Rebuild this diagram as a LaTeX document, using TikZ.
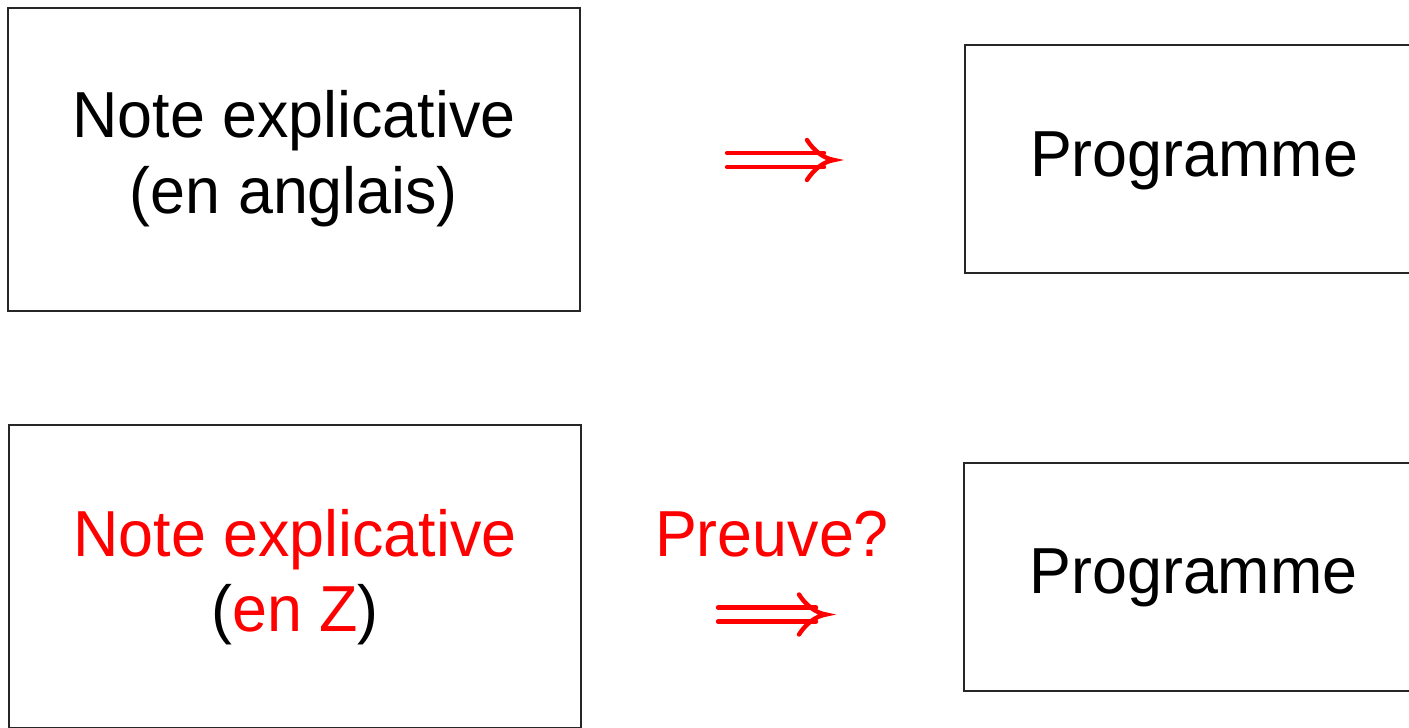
\documentclass[tikz,border=0pt]{standalone}
\usepackage{fontspec}
\setmainfont{Liberation Sans}[FakeStretch=0.965]
\begin{document}
\begin{tikzpicture}[x=0.01cm,y=-0.01cm,
  frame/.style={draw=black!85,line width=0.5pt,inner sep=0pt,outer sep=0pt},
  label/.style={anchor=base,inner sep=0pt,font=\fontsize{18.5}{21.3}\selectfont},
  implies/.style={draw=red,line width=1.25pt,line cap=round}]
  \path[use as bounding box,clip] (0,0) rectangle (1409,727);

  % boxes
  \node[frame,minimum width=5.72cm,minimum height=3.03cm] (spec) at (294,159.5) {};
  \node[frame,minimum width=4.58cm,minimum height=2.28cm] (prog) at (1194,159) {};
  \node[frame,minimum width=5.72cm,minimum height=3.03cm] (zspec) at (295,576.5) {};
  \node[frame,minimum width=4.59cm,minimum height=2.28cm] (zprog) at (1193.5,577) {};

  % box texts
  \node[label] (spec1) at (294,137) {Note explicative};
  \node[label] (spec2) at (294,213) {(en anglais)};
  \node[label] (prog1) at (1194,176) {Programme};
  \node[label,text=red] (zspec1) at (295,556) {Note explicative};
  \node[label] (zspec2) at (295,631) {(\textcolor{red}{en Z})};
  \node[label] (zprog1) at (1193.5,593) {Programme};
  \node[label,text=red] (proof) at (772,556) {Preuve?};

  % double implication arrows
  \coordinate (imp1s) at (727,160);
  \coordinate (imp1e) at (834,160);
  \coordinate (imp2s) at (718,614.5);
  \coordinate (imp2e) at (826,614.5);
  \foreach \s/\e in {imp1s/imp1e, imp2s/imp2e}{
    \draw[implies] ([yshift=0.07cm]\s) -- ([xshift=-0.1cm,yshift=0.07cm]\e);
    \draw[implies] ([yshift=-0.07cm]\s) -- ([xshift=-0.1cm,yshift=-0.07cm]\e);
    \draw[implies] ([xshift=-0.27cm,yshift=0.2cm]\e)
      .. controls ([xshift=-0.2cm,yshift=0.09cm]\e) and ([xshift=-0.1cm,yshift=0.015cm]\e) .. (\e)
      .. controls ([xshift=-0.1cm,yshift=-0.015cm]\e) and ([xshift=-0.2cm,yshift=-0.09cm]\e) .. ([xshift=-0.27cm,yshift=-0.2cm]\e);
  }
\end{tikzpicture}
\end{document}
